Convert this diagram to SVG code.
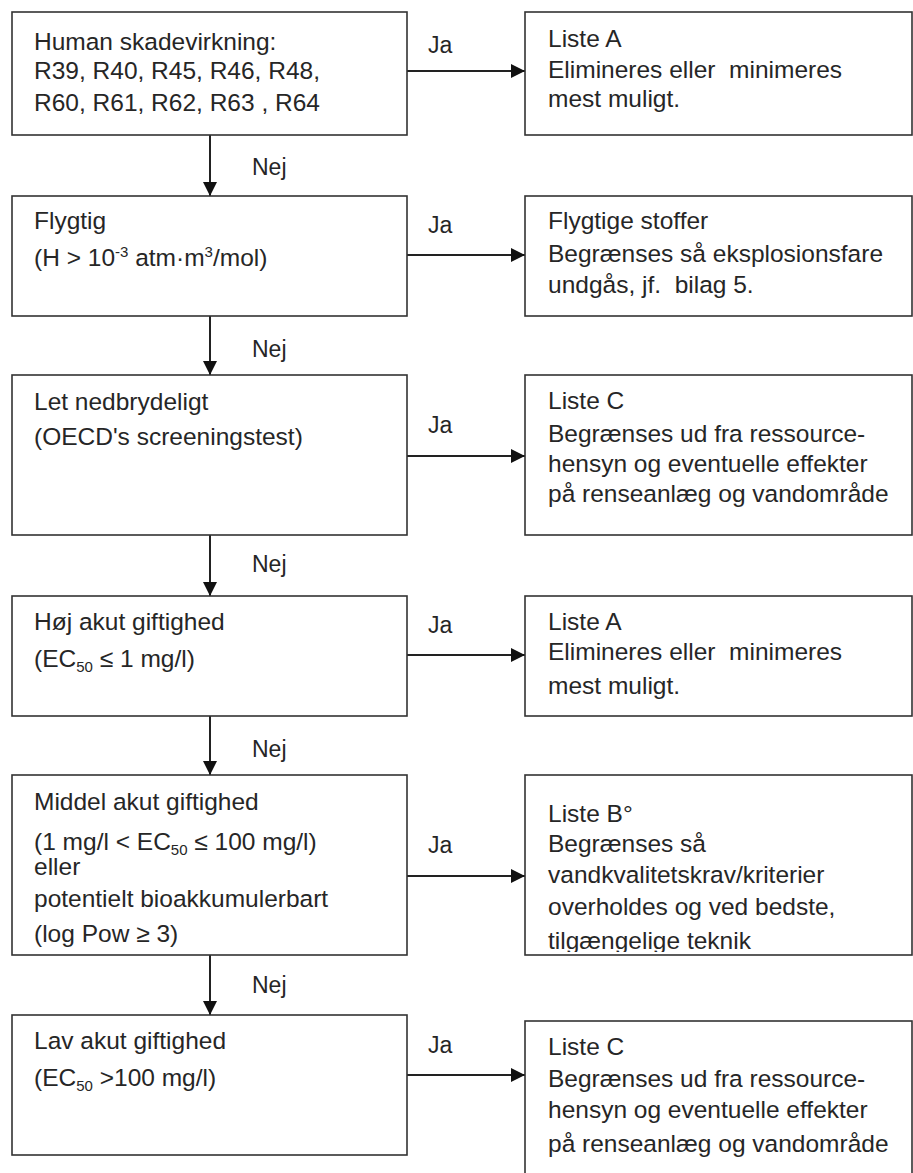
<svg xmlns="http://www.w3.org/2000/svg" width="913" height="1173" viewBox="0 0 913 1173">
<style>
.box{fill:#fff;stroke:#333;stroke-width:1.6}
.t{font-family:"Liberation Sans",Arial,sans-serif;font-size:24.5px;fill:#262626}
.lbl{font-family:"Liberation Sans",Arial,sans-serif;font-size:23px;fill:#262626}
.sub{font-size:15px}
.line{stroke:#222;stroke-width:2;fill:none;marker-end:url(#ah)}
</style>
<defs>
<marker id="ah" viewBox="0 0 10 10" refX="10" refY="5" markerWidth="7.5" markerHeight="7" markerUnits="strokeWidth" orient="auto">
<path d="M0,0 L10,5 L0,10 z" fill="#111"/>
</marker>
<clipPath id="clipB"><rect x="525" y="775" width="388" height="177"/></clipPath>
</defs>
<rect width="913" height="1173" fill="#fff"/>

<g id="connectors">
<line class="line" x1="407" y1="71" x2="525" y2="71"/>
<line class="line" x1="407" y1="255" x2="525" y2="255"/>
<line class="line" x1="407" y1="456" x2="525" y2="456"/>
<line class="line" x1="407" y1="655" x2="525" y2="655"/>
<line class="line" x1="407" y1="876" x2="525" y2="876"/>
<line class="line" x1="407" y1="1075" x2="525" y2="1075"/>
<line class="line" x1="210" y1="135" x2="210" y2="196"/>
<line class="line" x1="210" y1="316" x2="210" y2="375"/>
<line class="line" x1="210" y1="535" x2="210" y2="596"/>
<line class="line" x1="210" y1="716" x2="210" y2="775"/>
<line class="line" x1="210" y1="955" x2="210" y2="1015"/>
<text class="lbl" x="428" y="53">Ja</text>
<text class="lbl" x="428" y="233">Ja</text>
<text class="lbl" x="428" y="433">Ja</text>
<text class="lbl" x="428" y="633">Ja</text>
<text class="lbl" x="428" y="853">Ja</text>
<text class="lbl" x="428" y="1053">Ja</text>
<text class="lbl" x="252" y="175">Nej</text>
<text class="lbl" x="252" y="357">Nej</text>
<text class="lbl" x="252" y="572">Nej</text>
<text class="lbl" x="252" y="757">Nej</text>
<text class="lbl" x="252" y="993">Nej</text>
</g>

<g id="q1">
<rect class="box" x="12" y="12" width="395" height="123"/>
<text class="t" x="34" y="50">Human skadevirkning:</text>
<text class="t" x="34" y="79">R39, R40, R45, R46, R48,</text>
<text class="t" x="34" y="111">R60, R61, R62, R63 , R64</text>
</g>
<g id="r1">
<rect class="box" x="525" y="12" width="387" height="123"/>
<text class="t" x="548" y="47">Liste A</text>
<text class="t" x="548" y="78" xml:space="preserve">Elimineres eller  minimeres</text>
<text class="t" x="548" y="107">mest muligt.</text>
</g>

<g id="q2">
<rect class="box" x="12" y="196" width="395" height="120"/>
<text class="t" x="34" y="229">Flygtig</text>
<text class="t" x="34" y="266">(H &gt; 10<tspan class="sub" dy="-9">-3</tspan><tspan dy="9"> atm·m</tspan><tspan class="sub" dy="-9">3</tspan><tspan dy="9">/mol)</tspan></text>
</g>
<g id="r2">
<rect class="box" x="525" y="196" width="387" height="120"/>
<text class="t" x="548" y="229">Flygtige stoffer</text>
<text class="t" x="548" y="262">Begrænses så eksplosionsfare</text>
<text class="t" x="548" y="293" xml:space="preserve">undgås, jf.  bilag 5.</text>
</g>

<g id="q3">
<rect class="box" x="12" y="375" width="395" height="160"/>
<text class="t" x="34" y="410">Let nedbrydeligt</text>
<text class="t" x="34" y="445">(OECD's screeningstest)</text>
</g>
<g id="r3">
<rect class="box" x="525" y="375" width="387" height="160"/>
<text class="t" x="548" y="409">Liste C</text>
<text class="t" x="548" y="442">Begrænses ud fra ressource-</text>
<text class="t" x="548" y="472">hensyn og eventuelle effekter</text>
<text class="t" x="548" y="502">på renseanlæg og vandområde</text>
</g>

<g id="q4">
<rect class="box" x="12" y="596" width="395" height="120"/>
<text class="t" x="34" y="630">Høj akut giftighed</text>
<text class="t" x="34" y="667">(EC<tspan class="sub" dy="5">50</tspan><tspan dy="-5"> ≤ 1 mg/l)</tspan></text>
</g>
<g id="r4">
<rect class="box" x="525" y="596" width="387" height="120"/>
<text class="t" x="548" y="630">Liste A</text>
<text class="t" x="548" y="660" xml:space="preserve">Elimineres eller  minimeres</text>
<text class="t" x="548" y="694">mest muligt.</text>
</g>

<g id="q5">
<rect class="box" x="12" y="775" width="395" height="180"/>
<text class="t" x="34" y="810">Middel akut giftighed</text>
<text class="t" x="34" y="850">(1 mg/l &lt; EC<tspan class="sub" dy="5">50</tspan><tspan dy="-5"> ≤ 100 mg/l)</tspan></text>
<text class="t" x="34" y="875">eller</text>
<text class="t" x="34" y="907">potentielt bioakkumulerbart</text>
<text class="t" x="34" y="942">(log Pow ≥ 3)</text>
</g>
<g id="r5">
<rect class="box" x="525" y="775" width="387" height="180"/>
<g clip-path="url(#clipB)">
<text class="t" x="548" y="822">Liste B°</text>
<text class="t" x="548" y="852">Begrænses så</text>
<text class="t" x="548" y="883">vandkvalitetskrav/kriterier</text>
<text class="t" x="548" y="915">overholdes og ved bedste,</text>
<text class="t" x="548" y="949">tilgængelige teknik</text>
</g>
</g>

<g id="q6">
<rect class="box" x="12" y="1015" width="395" height="140"/>
<text class="t" x="34" y="1049">Lav akut giftighed</text>
<text class="t" x="34" y="1086">(EC<tspan class="sub" dy="5">50</tspan><tspan dy="-5"> &gt;100 mg/l)</tspan></text>
</g>
<g id="r6">
<rect class="box" x="525" y="1021" width="387" height="200"/>
<text class="t" x="548" y="1055">Liste C</text>
<text class="t" x="548" y="1087">Begrænses ud fra ressource-</text>
<text class="t" x="548" y="1118">hensyn og eventuelle effekter</text>
<text class="t" x="548" y="1152">på renseanlæg og vandområde</text>
</g>
</svg>
